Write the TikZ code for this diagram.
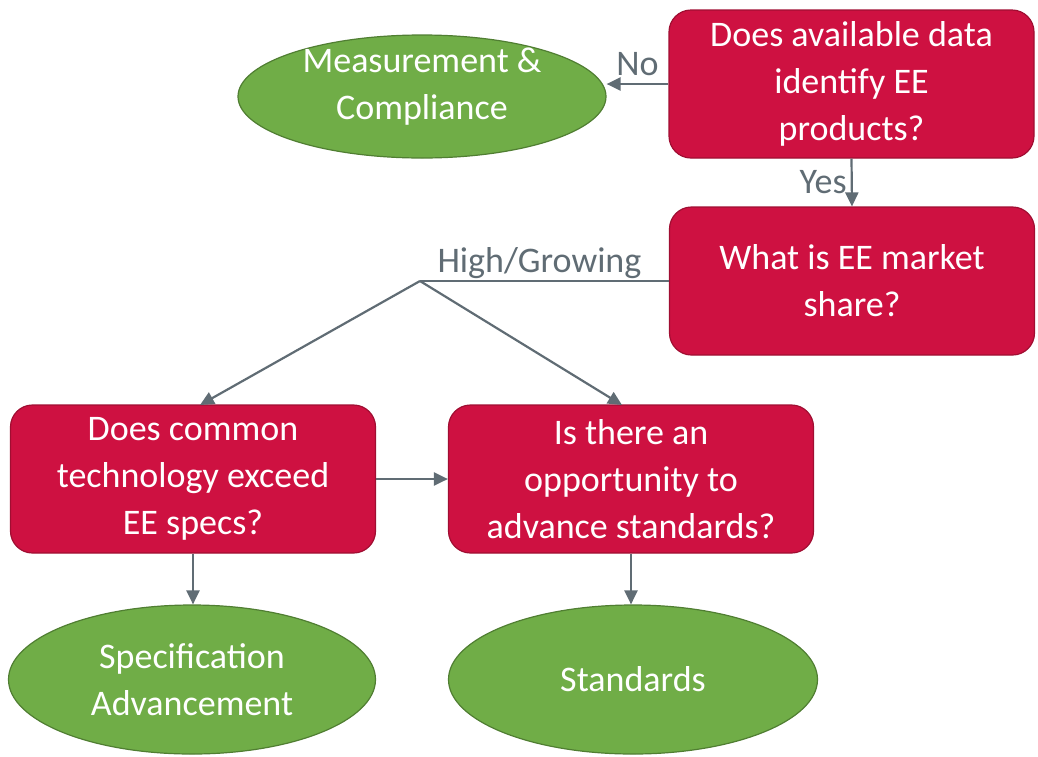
\documentclass[tikz,border=0pt]{standalone}
\usepackage{fontspec}
\setmainfont{Carlito}
\usepackage{tikz}
\usetikzlibrary{arrows.meta,positioning,calc,shapes.geometric}
\definecolor{qred}{RGB}{206,17,65}
\definecolor{qredline}{RGB}{160,14,50}
\definecolor{agreen}{RGB}{112,173,71}
\definecolor{agreenline}{RGB}{80,126,50}
\definecolor{linkgray}{RGB}{96,108,116}
\tikzstyle{question}=[draw=qredline,fill=qred,rounded corners=22pt,minimum width=365pt,minimum height=148pt,inner sep=0pt,align=center,text=white,font=\fontsize{36}{47}\selectfont,line width=1.2pt]
\tikzstyle{action}=[draw=agreenline,fill=agreen,ellipse,inner sep=0pt,align=center,text=white,font=\fontsize{36}{47}\selectfont,line width=1.2pt]
\tikzstyle{link}=[draw=linkgray,line width=2.2pt,-{Triangle[width=13pt,length=14pt]}]
\tikzstyle{tag}=[text=linkgray,font=\fontsize{36}{40}\selectfont,inner sep=1pt]

\begin{document}
\begin{tikzpicture}[x=1pt,y=-1pt]
\useasboundingbox (0,0) rectangle (1038,756);
\node [question] (avail) at (851.5,84) {Does available data\\identify EE\\products?};
\node [action,minimum width=368pt,minimum height=123pt,text depth=25pt,inner ysep=-14pt] (measure) at (422,96.5) {Measurement \&\\Compliance};
\node [question] (share) at (852,281) {What is EE market\\share?};
\node [question] (common) at (193,479) {Does common\\technology exceed\\EE specs?};
\node [question] (oppor) at (631,479) {Is there an\\opportunity to\\advance standards?};
\node [action,minimum width=367pt,minimum height=149pt] (specadv) at (192,679.5) {Specification\\Advancement};
\node [action,minimum width=369pt,minimum height=149pt] (stand) at (633,679.5) {Standards};
\coordinate (split) at (420,281);

\draw [link] (avail.west) -- (avail.west -| measure.east)
  node [tag,midway,above=6pt] {No};
\draw [link] (avail.south) -- (share.north)
  node [tag,midway,left=3pt] {Yes};
\draw [draw=linkgray,line width=1.4pt] (share.west) -- (split)
  node [tag,pos=0.52,above=1pt] {High/Growing};
\draw [link] (split) -- (200,405);
\draw [link] (split) -- (622,405);
\draw [link] (common.east) -- (oppor.west);
\draw [link] (common.south) -- (common.south |- specadv.north);
\draw [link] (oppor.south) -- (oppor.south |- stand.north);
\end{tikzpicture}
\end{document}
